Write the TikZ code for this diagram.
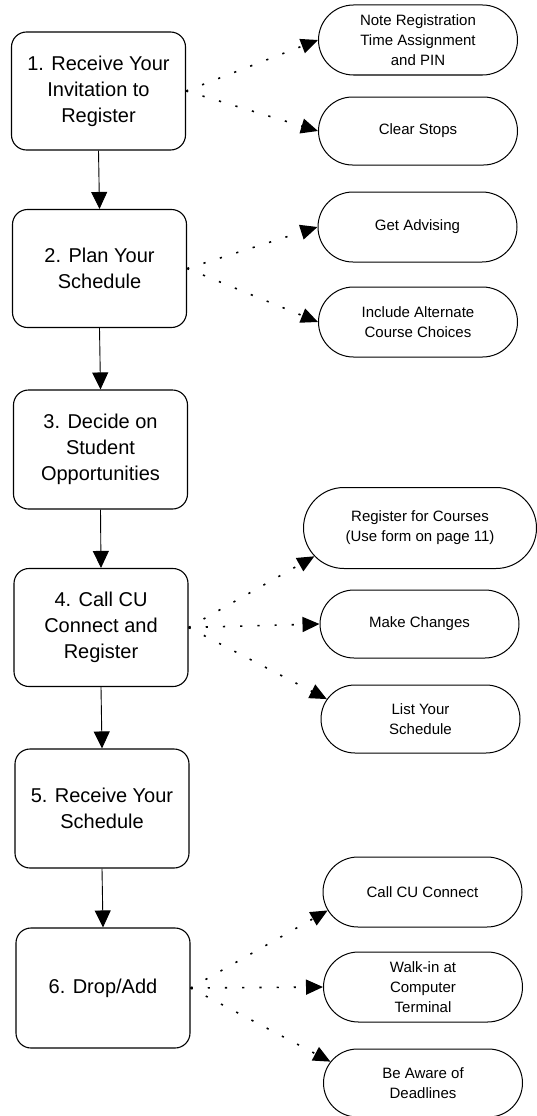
\documentclass[tikz,border=0pt]{standalone}
\usepackage{fontspec}
\setmainfont{Liberation Sans}
\usetikzlibrary{arrows.meta,shapes.misc}
\begin{document}
\begin{tikzpicture}[x=1pt,y=-1pt,
  stepbox/.style={draw, line width=1.1pt, rounded corners=15pt, inner sep=0pt,
    minimum width=174pt, minimum height=118pt, align=center,
    font=\fontsize{20}{26}\selectfont},
  pill/.style={draw, line width=1pt, rounded rectangle, inner sep=0pt,
    minimum width=199pt, minimum height=70pt, align=center,
    font=\fontsize{15}{20}\selectfont},
  flow/.style={line width=0.9pt, -{Triangle[length=17pt,width=16pt]}},
  dotline/.style={line width=1.6pt, dash pattern=on 2.2pt off 15pt,
    -{Triangle[length=17pt,width=15pt]}}
]
\useasboundingbox (0,0) rectangle (536,1116);

\node[stepbox] (b1) at (98.5,91) {1. Receive Your\\Invitation to\\Register};
\node[stepbox] (b2) at (99.5,268.5) {2. Plan Your\\Schedule};
\node[stepbox, minimum height=119pt] (b3) at (100.5,449.5) {3. Decide on\\Student\\Opportunities};
\node[stepbox] (b4) at (101,627.5) {4. Call CU\\Connect and\\Register};
\node[stepbox, minimum height=119pt] (b5) at (102,808.5) {5. Receive Your\\Schedule};
\node[stepbox, minimum height=120pt] (b6) at (103,988) {6. Drop/Add};

\node[pill] (p1) at (418,40) {Note Registration\\Time Assignment\\and PIN};
\node[pill, minimum height=68pt] (p2) at (418,131) {Clear Stops};
\node[pill] (p3) at (417.5,227) {Get Advising};
\node[pill] (p4) at (418,322) {Include Alternate\\Course Choices};
\node[pill, minimum width=233pt, minimum height=81pt] (p5) at (420,528) {Register for Courses\\(Use form on page 11)};
\node[pill, minimum height=68pt] (p6) at (419.5,624) {Make Changes};
\node[pill, minimum height=68pt] (p7) at (420.5,719) {List Your\\Schedule};
\node[pill] (p8) at (422.5,892) {Call CU Connect};
\node[pill] (p9) at (423,987) {Walk-in at\\Computer\\Terminal};
\node[pill, minimum height=68pt] (p10) at (423,1083) {Be Aware of\\Deadlines};

\draw[flow] (b1.south) -- (b2.north);
\draw[flow] (b2.south) -- (b3.north);
\draw[flow] (b3.south) -- (b4.north);
\draw[flow] (b4.south) -- (b5.north);
\draw[flow] (b5.south) -- (b6.north);

\draw[dotline] (b1.east) -- (p1.west);
\draw[dotline] (b1.east) -- (p2.west);
\draw[dotline] (b2.east) -- (p3.west);
\draw[dotline] (b2.east) -- (p4.west);
\draw[dotline] (b4.east) -- (p5.195);
\draw[dotline] (b4.east) -- (p6.west);
\draw[dotline] (b4.east) -- (p7.168);
\draw[dotline] (b6.east) -- (p8.191);
\draw[dotline] (b6.east) -- (p9.west);
\draw[dotline] (b6.east) -- (p10.167);
\end{tikzpicture}
\end{document}
